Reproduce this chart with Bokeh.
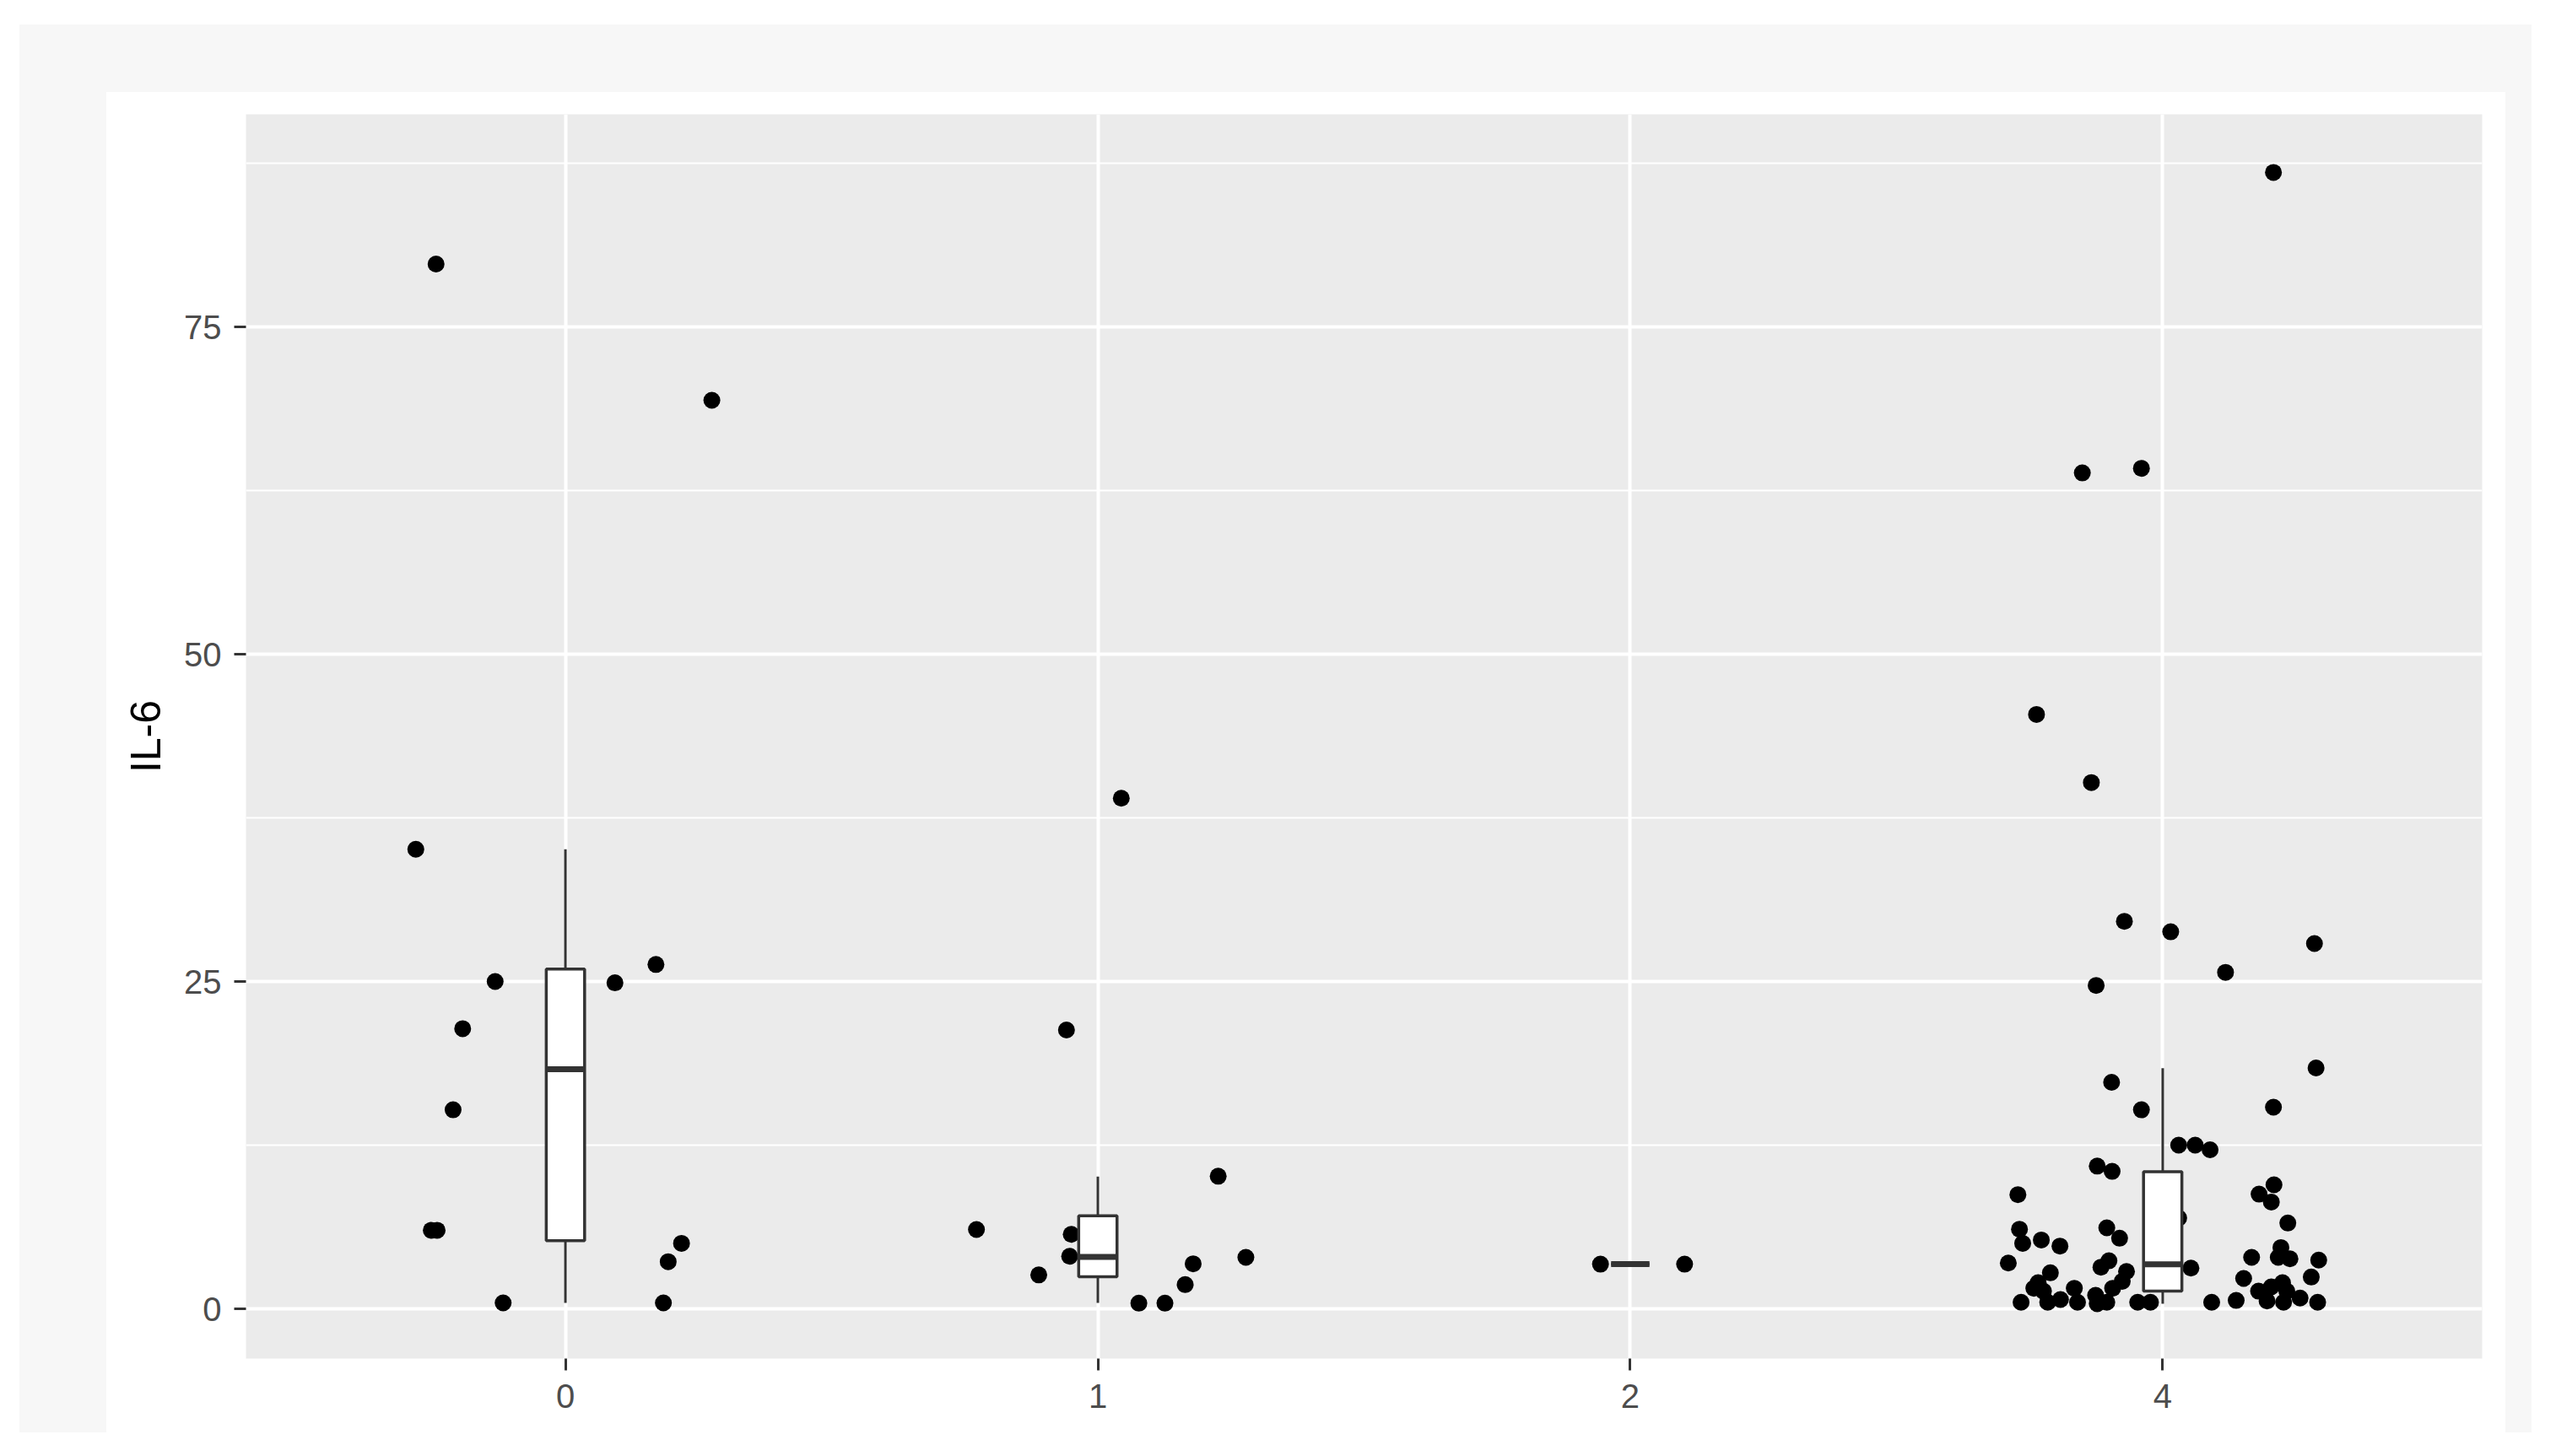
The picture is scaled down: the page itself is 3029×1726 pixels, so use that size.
from bokeh.plotting import figure
from bokeh.models import Range1d, FixedTicker, ColumnDataSource, Div
from bokeh.layouts import row, column
from bokeh.embed import file_html
from bokeh.resources import INLINE

# ---------------- data ----------------
categories = ["0", "1", "2", "4"]

il6_g0 = [79.8, 69.4, 35.1, 26.3, 25.0, 24.9, 21.4, 15.2, 6.0, 6.0, 5.0, 3.6, 0.45, 0.45]
jit_g0 = [-0.243, 0.275, -0.281, 0.170, -0.132, 0.093, -0.193, -0.211, -0.252, -0.241,
          0.218, 0.193, -0.117, 0.184]

il6_g1 = [39.0, 21.3, 10.13, 6.06, 5.69, 4.01, 2.59, 3.44, 3.93, 1.85, 0.43, 0.43]
jit_g1 = [0.044, -0.059, 0.226, -0.228, -0.050, -0.053, -0.111, 0.179, 0.278, 0.164,
          0.077, 0.126]

il6_g2 = [3.41, 3.41]
jit_g2 = [-0.056, 0.102]

il6_g4 = [86.8, 64.2, 63.85, 45.4, 40.2, 29.6, 28.8, 27.9, 25.7, 24.7,
          18.4, 17.3, 15.4, 15.2, 12.5, 12.5, 12.15, 10.9, 10.5,
          9.47, 8.76, 8.16, 8.72, 6.94,
          6.55, 6.19, 6.08, 5.39, 5.26, 5.0, 4.79, 4.68,
          3.93, 3.93, 3.82, 3.72, 3.67, 3.50, 3.18, 3.11,
          2.85, 2.75, 2.43, 2.32, 2.1, 2.0, 2.0,
          1.68, 1.57, 1.57, 1.57, 1.35, 1.35, 1.35,
          1.03, 0.82, 0.71, 0.64, 0.60,
          0.5, 0.5, 0.5, 0.5, 0.5, 0.5, 0.39,
          0.5, 0.5, 0.5]
jit_g4 = [0.208, -0.040, -0.151, -0.237, -0.134, -0.072, 0.015, 0.285, 0.118, -0.125,
          0.288, -0.096, 0.208, -0.040, 0.030, 0.061, 0.089, -0.123, -0.095,
          0.209, 0.181, 0.204, -0.272, 0.030,
          0.235, -0.105, -0.269, -0.081, -0.228, -0.263, -0.193, 0.222,
          0.167, 0.217, 0.239, 0.293, -0.101, -0.290, -0.116, 0.053,
          -0.068, -0.211, 0.279, 0.152, -0.076, -0.234, 0.225,
          0.204, -0.242, -0.094, -0.166, -0.224, 0.180, 0.233,
          -0.126, 0.258, -0.192, 0.138, 0.196,
          -0.266, -0.216, -0.160, -0.105, -0.047, -0.023, -0.123,
          0.227, 0.092, 0.291]

# box-plot statistics as drawn in the reference
box_lo = [0.45, 0.45, 3.41, 0.39]
box_q1 = [5.2, 2.45, 3.41, 1.35]
box_med = [18.3, 3.97, 3.41, 3.40]
box_q3 = [25.95, 7.1, 3.41, 10.48]
box_hi = [35.1, 10.1, 3.41, 18.38]

y_ticks = [0, 25, 50, 75]
y_minor = [12.5, 37.5, 62.5, 87.5]
y_title = "IL-6"

# ---------------- build ----------------
pos = [i + 1 for i in range(len(categories))]
groups = [(il6_g0, jit_g0), (il6_g1, jit_g1), (il6_g2, jit_g2), (il6_g4, jit_g4)]
px, py = [], []
for k, (vals, jit) in enumerate(groups):
    for v, j in zip(vals, jit):
        px.append(pos[k] + j)
        py.append(v)

p = figure(width=2843, height=1600,
           x_range=Range1d(0.4, 4.6), y_range=Range1d(-3.80, 91.24),
           output_backend="svg", toolbar_location=None,
           min_border_left=165, min_border_right=28, min_border_top=26, min_border_bottom=99,
           background_fill_color="#EBEBEB", border_fill_color="white")
p.outline_line_color = None

p.xaxis.ticker = FixedTicker(ticks=pos)
p.xaxis.major_label_overrides = {pos[i]: categories[i] for i in range(len(pos))}
p.yaxis.ticker = FixedTicker(ticks=y_ticks, minor_ticks=y_minor)

p.xgrid.grid_line_color = "white"
p.xgrid.grid_line_width = 4
p.ygrid.grid_line_color = "white"
p.ygrid.grid_line_width = 4
p.ygrid.minor_grid_line_color = "white"
p.ygrid.minor_grid_line_width = 2

for ax in (p.xaxis, p.yaxis):
    ax.axis_line_color = None
    ax.major_tick_line_color = "#333333"
    ax.major_tick_line_width = 3
    ax.major_tick_in = 0
    ax.major_tick_out = 14
    ax.minor_tick_line_color = None
    ax.major_label_text_font = "Liberation Sans"
    ax.major_label_text_font_size = "40px"
    ax.major_label_text_color = "#4D4D4D"

p.yaxis.major_label_standoff = 15
p.xaxis.major_label_standoff = 16
p.yaxis.axis_label = y_title
p.yaxis.axis_label_text_font = "Liberation Sans"
p.yaxis.axis_label_text_font_size = "50px"
p.yaxis.axis_label_text_font_style = "normal"
p.yaxis.axis_label_text_color = "black"
p.yaxis.axis_label_standoff = 14

# jittered points
p.scatter(x=px, y=py, size=20, color="black", line_color=None)

# box plots (drawn above the points, as in the reference)
bw = 0.072
src = ColumnDataSource(dict(x=pos, lo=box_lo, q1=box_q1, med=box_med, q3=box_q3, hi=box_hi,
                            l=[x - bw / 2 for x in pos], r=[x + bw / 2 for x in pos]))
p.segment(x0="x", y0="q3", x1="x", y1="hi", source=src, line_color="#333333", line_width=3)
p.segment(x0="x", y0="lo", x1="x", y1="q1", source=src, line_color="#333333", line_width=3)
p.vbar(x="x", width=bw, top="q3", bottom="q1", source=src,
       fill_color="white", line_color="#333333", line_width=3.5)
p.segment(x0="l", y0="med", x1="r", y1="med", source=src, line_color="#333333", line_width=7)

# surrounding page frame (light grey band around a white panel)
frame_bg = {"background-color": "#F7F7F7"}
top = Div(text="", width=2977, height=80, margin=0, styles=frame_bg)
left = Div(text="", width=103, height=1589, margin=0, styles=frame_bg)
right = Div(text="", width=31, height=1589, margin=0, styles=frame_bg)
layout = column(top, row(left, p, right, spacing=0), spacing=0, margin=(29, 0, 0, 23))

open("out.html", "w").write(file_html(layout, INLINE))
